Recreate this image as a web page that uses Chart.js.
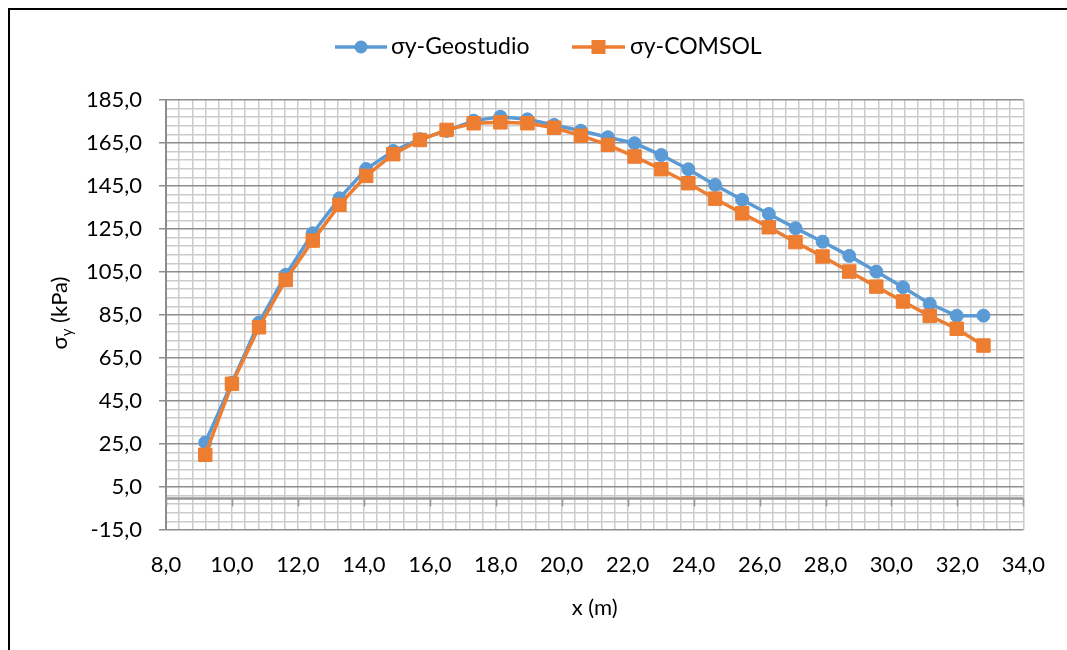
<!DOCTYPE html>
<html>
<head>
<meta charset="utf-8">
<script src="https://cdn.jsdelivr.net/npm/chart.js@4.4.0/dist/chart.umd.min.js"></script>
<style>
  html, body { margin: 0; padding: 0; background: #fff; overflow: hidden; }
  #frame { position: absolute; left: 8px; top: 8px; width: 1100px; height: 700px; border: 2px solid #000; background: #fff; }
  #chart { position: absolute; left: 0; top: 0; }
</style>
</head>
<body>
<div id="frame"></div>
<canvas id="chart" width="1067" height="650"></canvas>
<script>
// DATA
const xValues = [9.19, 10.00, 10.82, 11.63, 12.45, 13.26, 14.07, 14.89, 15.70, 16.51,
  17.33, 18.14, 18.96, 19.77, 20.58, 21.40, 22.21, 23.02, 23.84, 24.65,
  25.47, 26.28, 27.09, 27.91, 28.72, 29.54, 30.35, 31.16, 31.98, 32.79];
const geostudio = [25.7, 53.5, 81.5, 103.7, 123.0, 139.3, 152.9, 161.3, 166.8, 170.6,
  175.4, 177.2, 176.0, 173.4, 170.7, 167.7, 164.9, 159.4, 152.8, 145.5,
  138.6, 132.0, 125.4, 119.1, 112.5, 105.2, 97.9, 90.2, 84.6, 84.7];
const comsol = [20.0, 53.0, 79.3, 101.3, 119.6, 136.2, 149.7, 159.8, 166.4, 171.1,
  174.2, 174.6, 174.2, 172.1, 168.4, 164.1, 158.7, 152.8, 146.3, 139.1,
  132.3, 125.8, 118.9, 112.2, 105.2, 98.2, 91.3, 84.6, 78.6, 70.8];
const seriesNames = ["σy-Geostudio", "σy-COMSOL"];

const BLUE = "#5B9BD5";
const ORANGE = "#ED7D31";
const FONT = "Lato, 'Open Sans', sans-serif";

function toPoints(ys) {
  return xValues.map((x, i) => ({ x: x, y: ys[i] }));
}
function fmt(v) {
  return v.toFixed(1).replace(".", ",");
}
function isMajorY(v) {
  return Math.round(v + 15) % 20 === 0;
}
function isMajorX(v) {
  return Math.abs(v / 2 - Math.round(v / 2)) < 1e-6;
}

// axis line at y = 0, titles and legend
const extras = {
  id: "extras",
  beforeDatasetsDraw(chart) {
    const ctx = chart.ctx;
    const xs = chart.scales.x;
    const ys = chart.scales.y;
    const y0 = Math.round(ys.getPixelForValue(0)) + 0.5;
    ctx.save();
    ctx.strokeStyle = "#979797";
    ctx.lineWidth = 2.5;
    ctx.beginPath();
    ctx.moveTo(chart.chartArea.left, y0);
    ctx.lineTo(chart.chartArea.right, y0);
    ctx.stroke();
    ctx.lineWidth = 1.5;
    xs.ticks.forEach((t) => {
      if (!isMajorX(t.value)) return;
      const px = Math.round(xs.getPixelForValue(t.value)) + 0.5;
      ctx.beginPath();
      ctx.moveTo(px, y0);
      ctx.lineTo(px, y0 + 8);
      ctx.stroke();
    });
    ctx.restore();
  },
  afterDraw(chart) {
    const ctx = chart.ctx;
    const area = chart.chartArea;
    ctx.save();
    ctx.fillStyle = "#000";
    ctx.textBaseline = "middle";

    // x title
    ctx.font = "22px " + FONT;
    ctx.textAlign = "center";
    ctx.fillText("x (m)", (area.left + area.right) / 2, 608);

    // y title with subscript
    ctx.translate(60, (area.top + area.bottom) / 2 - 2);
    ctx.rotate(-Math.PI / 2);
    ctx.textAlign = "left";
    const big = "22px " + FONT;
    const small = "15px " + FONT;
    ctx.font = big;
    const w1 = ctx.measureText("σ").width;
    const w3 = ctx.measureText(" (kPa)").width;
    ctx.font = small;
    const w2 = ctx.measureText("y").width;
    let x = -(w1 + w2 + w3) / 2;
    ctx.font = big;
    ctx.fillText("σ", x, 0);
    x += w1;
    ctx.font = small;
    ctx.fillText("y", x, 7);
    x += w2;
    ctx.font = big;
    ctx.fillText(" (kPa)", x, 0);
    ctx.restore();

    // legend
    const items = [
      { name: seriesNames[0], color: BLUE, shape: "circle", x1: 335, x2: 387, tx: 391 },
      { name: seriesNames[1], color: ORANGE, shape: "rect", x1: 572, x2: 625, tx: 630 }
    ];
    const ly = 47;
    ctx.save();
    items.forEach((it) => {
      ctx.strokeStyle = it.color;
      ctx.fillStyle = it.color;
      ctx.lineWidth = 3.5;
      ctx.beginPath();
      ctx.moveTo(it.x1, ly);
      ctx.lineTo(it.x2, ly);
      ctx.stroke();
      const cx = (it.x1 + it.x2) / 2;
      if (it.shape === "circle") {
        ctx.beginPath();
        ctx.arc(cx, ly, 6.5, 0, Math.PI * 2);
        ctx.fill();
      } else {
        ctx.fillRect(cx - 7, ly - 7, 14, 14);
      }
      ctx.fillStyle = "#000";
      ctx.font = "23px " + FONT;
      ctx.textAlign = "left";
      ctx.textBaseline = "middle";
      ctx.fillText(it.name, it.tx, ly);
    });
    ctx.restore();
  }
};

const ctx = document.getElementById("chart").getContext("2d");

const myChart = new Chart(ctx, {
  type: "line",
  data: {
    datasets: [
      {
        label: seriesNames[0],
        data: toPoints(geostudio),
        borderColor: BLUE,
        backgroundColor: BLUE,
        borderWidth: 3.5,
        pointStyle: "circle",
        pointRadius: 6.5,
        pointBorderWidth: 1,
        fill: false,
        order: 2
      },
      {
        label: seriesNames[1],
        data: toPoints(comsol),
        borderColor: ORANGE,
        backgroundColor: ORANGE,
        borderWidth: 3.5,
        pointStyle: "rect",
        pointRadius: 9.5,
        pointBorderWidth: 1,
        fill: false,
        order: 1
      }
    ]
  },
  options: {
    responsive: false,
    animation: false,
    devicePixelRatio: 1,
    layout: { padding: { top: 100, right: 40, bottom: 60, left: 0 } },
    plugins: {
      legend: { display: false },
      tooltip: { enabled: false }
    },
    scales: {
      x: {
        type: "linear",
        min: 8,
        max: 34,
        afterFit: (s) => { s.height = 60; },
        grid: { color: "#cbcbcb", lineWidth: 1.5, drawTicks: false },
        border: { display: false },
        ticks: {
          stepSize: 0.4,
          autoSkip: false,
          maxRotation: 0,
          padding: 22,
          color: "#000",
          font: { family: FONT, size: 22 },
          callback: (v) => (isMajorX(v) ? fmt(v) : "")
        }
      },
      y: {
        type: "linear",
        min: -15,
        max: 185,
        afterFit: (s) => { s.width = 166; },
        grid: {
          color: (c) => (isMajorY(c.tick.value) ? "#8e8e8e" : "#cbcbcb"),
          lineWidth: 1.5,
          tickLength: 7,
          tickColor: (c) => (isMajorY(c.tick.value) ? "#8e8e8e" : "rgba(0,0,0,0)")
        },
        border: { color: "#8c8c8c", width: 2 },
        ticks: {
          stepSize: 4,
          autoSkip: false,
          padding: 17,
          color: "#000",
          font: { family: FONT, size: 22 },
          callback: (v) => (isMajorY(v) ? fmt(v) : "")
        }
      }
    }
  },
  plugins: [extras]
});
</script>
</body>
</html>
